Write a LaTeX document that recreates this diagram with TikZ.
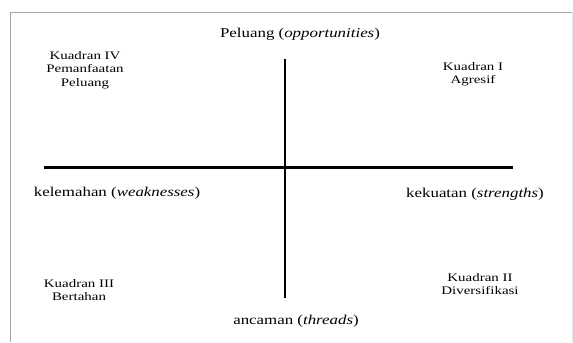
\documentclass[tikz,border=0pt]{standalone}
\usepackage{fontspec}
\setmainfont{Liberation Serif}
\newfontfamily\axfont{Liberation Serif}[FakeStretch=1.25]
\newfontfamily\qfont{Liberation Serif}[FakeStretch=1.3]
\begin{document}
\begin{tikzpicture}[x=1bp,y=-1bp,
  axis/.style={line width=2.5bp,black},
  axlabel/.style={inner sep=0pt,font=\axfont\fontsize{13.5bp}{16bp}\selectfont},
  qlabel/.style={inner sep=0pt,align=center,font=\qfont\fontsize{11.5bp}{13.5bp}\selectfont}]
\useasboundingbox (0,0) rectangle (573,342);
% frame
\draw[gray!70,line width=1.5bp] (10.5,342) -- (10.5,12.5) -- (572,12.5);
\draw[gray!20,line width=1bp] (572,12.5) -- (572,342);
% axes
\coordinate (vt) at (285,59);
\coordinate (vb) at (285,298);
\coordinate (hl) at (44,167.5);
\coordinate (hr) at (513,167.5);
\draw[axis] (vt) -- (vb);
\draw[axis] (hl) -- (hr);
% axis labels
\node[axlabel] (top) at (300,34) {Peluang (\textit{opportunities})};
\node[axlabel] (left) at (117,193) {kelemahan (\textit{weaknesses})};
\node[axlabel] (right) at (475,194) {kekuatan (\textit{strengths})};
\node[axlabel] (bottom) at (296,321) {ancaman (\textit{threads})};
% quadrant labels
\node[qlabel] (q4) at (85,70) {Kuadran IV\\Pemanfaatan\\Peluang};
\node[qlabel] (q1) at (473,74) {Kuadran I\\Agresif};
\node[qlabel] (q3) at (79,290) {Kuadran III\\Bertahan};
\node[qlabel] (q2) at (480,284) {Kuadran II\\Diversifikasi};
\end{tikzpicture}
\end{document}
